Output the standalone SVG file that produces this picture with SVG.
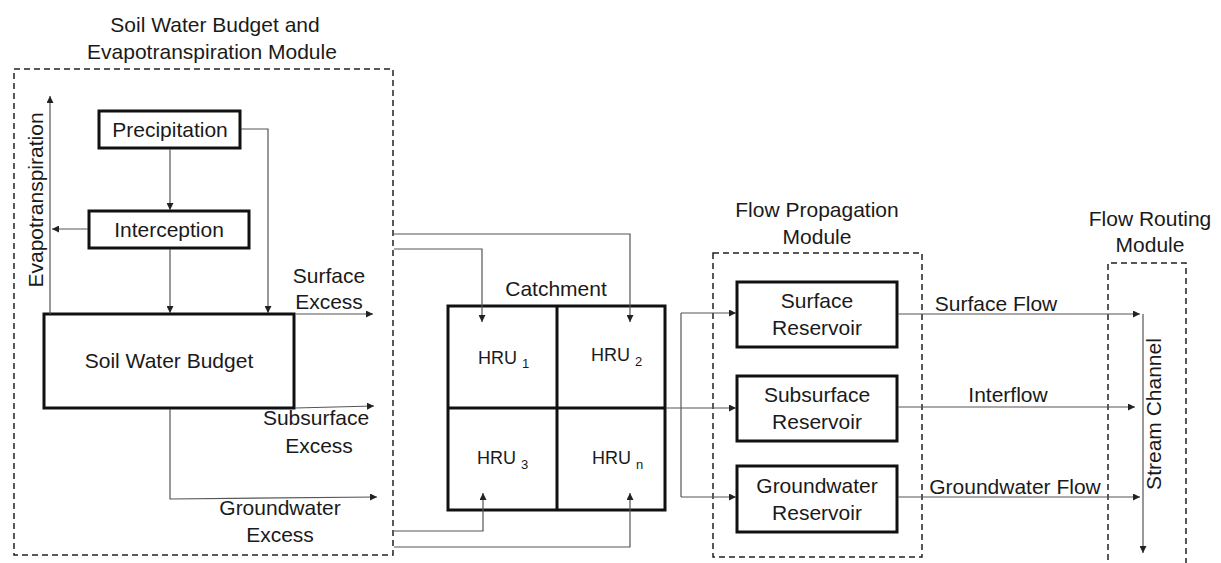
<svg xmlns="http://www.w3.org/2000/svg" width="1221" height="563" viewBox="0 0 1221 563">
<style>
text{font-family:"Liberation Sans",Arial,sans-serif;font-size:21px;fill:#1a1a1a}
.c{text-anchor:middle}
.box{fill:#fff;stroke:#111;stroke-width:3}
.dash{fill:none;stroke:#222;stroke-width:1.5;stroke-dasharray:6,4}
.ln{fill:none;stroke:#555;stroke-width:1.2}
.ar{marker-end:url(#ah)}
.hru{font-size:18px}
.sub{font-size:13px}
</style>
<defs>
<marker id="ah" viewBox="0 0 10 10" refX="10" refY="5" markerWidth="8" markerHeight="7" markerUnits="userSpaceOnUse" orient="auto"><path d="M0,0 L10,5 L0,10 z" fill="#222"/></marker>
</defs>

<g id="module-soil">
<rect class="dash" x="14" y="69" width="379" height="486"/>
<text class="c" x="215" y="32">Soil Water Budget and</text>
<text class="c" x="212" y="59">Evapotranspiration Module</text>
</g>
<g id="module-propagation">
<rect class="dash" x="713" y="253" width="209" height="304"/>
<text class="c" x="817" y="217">Flow Propagation</text>
<text class="c" x="817" y="244">Module</text>
</g>
<g id="module-routing">
<path class="dash" d="M1108,570 L1108,263 L1186,263 L1186,570"/>
<text class="c" x="1150" y="226">Flow Routing</text>
<text class="c" x="1150" y="252">Module</text>
</g>

<g id="precipitation">
<rect class="box" x="99" y="111" width="141" height="37"/>
<text class="c" x="170" y="137">Precipitation</text>
</g>
<g id="interception">
<rect class="box" x="89" y="211" width="160" height="37"/>
<text class="c" x="169" y="237">Interception</text>
</g>
<g id="soil-water-budget">
<rect class="box" x="44" y="314" width="250" height="94"/>
<text class="c" x="169" y="368">Soil Water Budget</text>
</g>

<g id="catchment">
<text class="c" x="556" y="296">Catchment</text>
<rect class="box" x="448" y="306" width="217" height="204"/>
<path d="M557,306 L557,510 M448,408 L665,408" stroke="#111" stroke-width="3" fill="none"/>
</g>
<g id="hru1"><text class="hru" x="478" y="364">HRU <tspan class="sub" dy="4">1</tspan></text></g>
<g id="hru2"><text class="hru" x="591" y="361">HRU <tspan class="sub" dy="5">2</tspan></text></g>
<g id="hru3"><text class="hru" x="477" y="464">HRU <tspan class="sub" dy="5">3</tspan></text></g>
<g id="hrun"><text class="hru" x="592" y="464">HRU <tspan class="sub" dy="5">n</tspan></text></g>

<g id="surface-reservoir">
<rect class="box" x="737" y="282" width="160" height="65"/>
<text class="c" x="817" y="308">Surface</text>
<text class="c" x="817" y="335">Reservoir</text>
</g>
<g id="subsurface-reservoir">
<rect class="box" x="737" y="376" width="160" height="65"/>
<text class="c" x="817" y="402">Subsurface</text>
<text class="c" x="817" y="429">Reservoir</text>
</g>
<g id="groundwater-reservoir">
<rect class="box" x="737" y="466" width="160" height="66"/>
<text class="c" x="817" y="493">Groundwater</text>
<text class="c" x="817" y="520">Reservoir</text>
</g>

<g id="connectors">
<path class="ln ar" d="M50,314 L50,96"/>
<path class="ln ar" d="M170,149 L170,210"/>
<path class="ln ar" d="M88,229 L52,229"/>
<path class="ln ar" d="M170,249 L170,313"/>
<path class="ln ar" d="M241,129 L268,129 L268,313"/>
<path class="ln ar" d="M295,314 L373,314"/>
<path class="ln ar" d="M295,408 L374,406"/>
<path class="ln ar" d="M170,409 L170,499 L377,497"/>
<path class="ln ar" d="M394,234 L630,234 L630,322"/>
<path class="ln ar" d="M394,249 L482,249 L482,322"/>
<path class="ln ar" d="M394,531 L483,531 L483,493"/>
<path class="ln ar" d="M394,547 L630,547 L630,493"/>
<path class="ln ar" d="M666,408 L736,408"/>
<path class="ln ar" d="M681,313 L736,313"/>
<path class="ln ar" d="M681,497 L736,497"/>
<path class="ln" d="M681,313 L681,497"/>
<path class="ln ar" d="M898,314 L1140,314"/>
<path class="ln ar" d="M898,407 L1135,407"/>
<path class="ln ar" d="M898,497 L1140,497"/>
<path class="ln ar" d="M1143,314 L1143,553"/>
</g>

<g id="labels">
<text class="c" transform="translate(43,200) rotate(-90)">Evapotranspiration</text>
<text class="c" x="329" y="283">Surface</text>
<text class="c" x="329" y="309">Excess</text>
<text class="c" x="316" y="425">Subsurface</text>
<text class="c" x="319" y="453">Excess</text>
<text class="c" x="280" y="515">Groundwater</text>
<text class="c" x="280" y="542">Excess</text>
<text class="c" x="996" y="311">Surface Flow</text>
<text class="c" x="1008" y="402">Interflow</text>
<text class="c" x="1015" y="494">Groundwater Flow</text>
<text class="c" transform="translate(1161,414) rotate(-90)">Stream Channel</text>
</g>
</svg>
